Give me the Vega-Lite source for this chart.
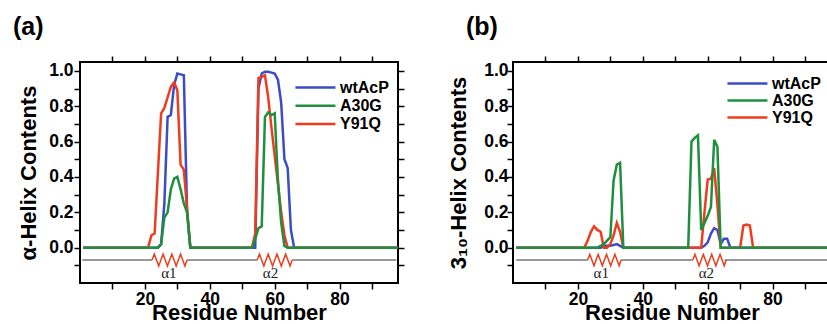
{
  "$schema": "https://vega.github.io/schema/vega-lite/v6.json",
  "padding": {"left": 12, "top": 14, "right": 0, "bottom": 0},
  "background": "white",
  "bounds": "flush",
  "config": {
    "font": "Liberation Sans",
    "view": {"stroke": "black", "strokeWidth": 2},
    "axis": {
      "labelFont": "Liberation Sans", "labelFontWeight": "bold", "labelFontSize": 17.5, "labelColor": "black",
      "titleFont": "Liberation Sans", "titleFontWeight": "bold", "titleFontSize": 22, "titleColor": "black",
      "domain": false, "grid": false, "ticks": true, "tickColor": "#000000", "tickOpacity": 1, "tickWidth": 1.5, "labelOverlap": false, "zindex": 1
    },
    "legend": {
      "title": null, "symbolType": "M-1,0L4.66,0", "symbolSize": 200, "symbolStrokeWidth": 2.5,
      "labelFont": "Liberation Sans", "labelFontSize": 16, "labelFontWeight": "bold", "labelColor": "black",
      "labelOffset": 29, "padding": 0, "rowPadding": 0
    },
    "title": {"font": "Liberation Sans", "fontWeight": "bold", "fontSize": 25, "color": "black"}
  },
  "datasets": {
    "a": [
      {"residue":1,"content":0,"variant":"wtAcP"},{"residue":24,"content":0,"variant":"wtAcP"},{"residue":25,"content":0.02,"variant":"wtAcP"},{"residue":26,"content":0.25,"variant":"wtAcP"},{"residue":27,"content":0.74,"variant":"wtAcP"},{"residue":28,"content":0.75,"variant":"wtAcP"},{"residue":29,"content":0.92,"variant":"wtAcP"},{"residue":30,"content":0.985,"variant":"wtAcP"},{"residue":31,"content":0.98,"variant":"wtAcP"},{"residue":32,"content":0.975,"variant":"wtAcP"},{"residue":33,"content":0.2,"variant":"wtAcP"},{"residue":34,"content":0,"variant":"wtAcP"},{"residue":54,"content":0,"variant":"wtAcP"},{"residue":55,"content":0.9,"variant":"wtAcP"},{"residue":56,"content":0.985,"variant":"wtAcP"},{"residue":57,"content":0.995,"variant":"wtAcP"},{"residue":58,"content":0.995,"variant":"wtAcP"},{"residue":59,"content":0.99,"variant":"wtAcP"},{"residue":60,"content":0.985,"variant":"wtAcP"},{"residue":61,"content":0.95,"variant":"wtAcP"},{"residue":62,"content":0.82,"variant":"wtAcP"},{"residue":63,"content":0.5,"variant":"wtAcP"},{"residue":64,"content":0.45,"variant":"wtAcP"},{"residue":65,"content":0.1,"variant":"wtAcP"},{"residue":66,"content":0,"variant":"wtAcP"},{"residue":98,"content":0,"variant":"wtAcP"},
      {"residue":1,"content":0,"variant":"Y91Q"},{"residue":21,"content":0,"variant":"Y91Q"},{"residue":22,"content":0.07,"variant":"Y91Q"},{"residue":23,"content":0.08,"variant":"Y91Q"},{"residue":24,"content":0.42,"variant":"Y91Q"},{"residue":25,"content":0.76,"variant":"Y91Q"},{"residue":26,"content":0.79,"variant":"Y91Q"},{"residue":27,"content":0.85,"variant":"Y91Q"},{"residue":28,"content":0.91,"variant":"Y91Q"},{"residue":29,"content":0.935,"variant":"Y91Q"},{"residue":30,"content":0.89,"variant":"Y91Q"},{"residue":31,"content":0.47,"variant":"Y91Q"},{"residue":32,"content":0.44,"variant":"Y91Q"},{"residue":33,"content":0.22,"variant":"Y91Q"},{"residue":34,"content":0,"variant":"Y91Q"},{"residue":53,"content":0,"variant":"Y91Q"},{"residue":54,"content":0.08,"variant":"Y91Q"},{"residue":55,"content":0.96,"variant":"Y91Q"},{"residue":56,"content":0.965,"variant":"Y91Q"},{"residue":57,"content":0.975,"variant":"Y91Q"},{"residue":58,"content":0.85,"variant":"Y91Q"},{"residue":59,"content":0.68,"variant":"Y91Q"},{"residue":60,"content":0.52,"variant":"Y91Q"},{"residue":61,"content":0.36,"variant":"Y91Q"},{"residue":62,"content":0.2,"variant":"Y91Q"},{"residue":63,"content":0.07,"variant":"Y91Q"},{"residue":64,"content":0,"variant":"Y91Q"},{"residue":98,"content":0,"variant":"Y91Q"},
      {"residue":1,"content":0,"variant":"A30G"},{"residue":24,"content":0,"variant":"A30G"},{"residue":25,"content":0.02,"variant":"A30G"},{"residue":26,"content":0.17,"variant":"A30G"},{"residue":27,"content":0.2,"variant":"A30G"},{"residue":28,"content":0.33,"variant":"A30G"},{"residue":29,"content":0.39,"variant":"A30G"},{"residue":30,"content":0.4,"variant":"A30G"},{"residue":31,"content":0.33,"variant":"A30G"},{"residue":32,"content":0.25,"variant":"A30G"},{"residue":33,"content":0.2,"variant":"A30G"},{"residue":34,"content":0,"variant":"A30G"},{"residue":53,"content":0,"variant":"A30G"},{"residue":54,"content":0.05,"variant":"A30G"},{"residue":55,"content":0.11,"variant":"A30G"},{"residue":56,"content":0.12,"variant":"A30G"},{"residue":57,"content":0.74,"variant":"A30G"},{"residue":58,"content":0.765,"variant":"A30G"},{"residue":59,"content":0.75,"variant":"A30G"},{"residue":60,"content":0.76,"variant":"A30G"},{"residue":61,"content":0.38,"variant":"A30G"},{"residue":62,"content":0.14,"variant":"A30G"},{"residue":63,"content":0.01,"variant":"A30G"},{"residue":64,"content":0,"variant":"A30G"},{"residue":98,"content":0,"variant":"A30G"}
    ],
    "b": [
      {"residue":1,"content":0,"variant":"wtAcP"},{"residue":27,"content":0,"variant":"wtAcP"},{"residue":28,"content":0.01,"variant":"wtAcP"},{"residue":29,"content":0.01,"variant":"wtAcP"},{"residue":30,"content":0.01,"variant":"wtAcP"},{"residue":31,"content":0.015,"variant":"wtAcP"},{"residue":32,"content":0.02,"variant":"wtAcP"},{"residue":33,"content":0.01,"variant":"wtAcP"},{"residue":34,"content":0,"variant":"wtAcP"},{"residue":58,"content":0,"variant":"wtAcP"},{"residue":59,"content":0.01,"variant":"wtAcP"},{"residue":60,"content":0.03,"variant":"wtAcP"},{"residue":61,"content":0.08,"variant":"wtAcP"},{"residue":62,"content":0.11,"variant":"wtAcP"},{"residue":63,"content":0.1,"variant":"wtAcP"},{"residue":64,"content":0.02,"variant":"wtAcP"},{"residue":65,"content":0.05,"variant":"wtAcP"},{"residue":66,"content":0.05,"variant":"wtAcP"},{"residue":67,"content":0,"variant":"wtAcP"},{"residue":98,"content":0,"variant":"wtAcP"},
      {"residue":1,"content":0,"variant":"Y91Q"},{"residue":22,"content":0,"variant":"Y91Q"},{"residue":23,"content":0.04,"variant":"Y91Q"},{"residue":24,"content":0.09,"variant":"Y91Q"},{"residue":25,"content":0.12,"variant":"Y91Q"},{"residue":26,"content":0.1,"variant":"Y91Q"},{"residue":27,"content":0.09,"variant":"Y91Q"},{"residue":28,"content":0,"variant":"Y91Q"},{"residue":29,"content":0,"variant":"Y91Q"},{"residue":30,"content":0.02,"variant":"Y91Q"},{"residue":31,"content":0.07,"variant":"Y91Q"},{"residue":32,"content":0.14,"variant":"Y91Q"},{"residue":33,"content":0.09,"variant":"Y91Q"},{"residue":34,"content":0,"variant":"Y91Q"},{"residue":58,"content":0,"variant":"Y91Q"},{"residue":59,"content":0.2,"variant":"Y91Q"},{"residue":60,"content":0.385,"variant":"Y91Q"},{"residue":61,"content":0.39,"variant":"Y91Q"},{"residue":62,"content":0.45,"variant":"Y91Q"},{"residue":63,"content":0.24,"variant":"Y91Q"},{"residue":64,"content":0,"variant":"Y91Q"},{"residue":70,"content":0,"variant":"Y91Q"},{"residue":71,"content":0.125,"variant":"Y91Q"},{"residue":72,"content":0.13,"variant":"Y91Q"},{"residue":73,"content":0.125,"variant":"Y91Q"},{"residue":74,"content":0,"variant":"Y91Q"},{"residue":98,"content":0,"variant":"Y91Q"},
      {"residue":1,"content":0,"variant":"A30G"},{"residue":26,"content":0,"variant":"A30G"},{"residue":27,"content":0.01,"variant":"A30G"},{"residue":28,"content":0.02,"variant":"A30G"},{"residue":29,"content":0.04,"variant":"A30G"},{"residue":30,"content":0.06,"variant":"A30G"},{"residue":31,"content":0.38,"variant":"A30G"},{"residue":32,"content":0.47,"variant":"A30G"},{"residue":33,"content":0.48,"variant":"A30G"},{"residue":34,"content":0,"variant":"A30G"},{"residue":54,"content":0,"variant":"A30G"},{"residue":55,"content":0.6,"variant":"A30G"},{"residue":56,"content":0.62,"variant":"A30G"},{"residue":57,"content":0.635,"variant":"A30G"},{"residue":58,"content":0.1,"variant":"A30G"},{"residue":59,"content":0.14,"variant":"A30G"},{"residue":60,"content":0.18,"variant":"A30G"},{"residue":61,"content":0.23,"variant":"A30G"},{"residue":62,"content":0.61,"variant":"A30G"},{"residue":63,"content":0.57,"variant":"A30G"},{"residue":64,"content":0,"variant":"A30G"},{"residue":98,"content":0,"variant":"A30G"}
    ],
    "coilA": [{"from":0.7,"to":22.2},{"from":33,"to":54.6},{"from":65.4,"to":97.5}],
    "helixA": [{"helix":"α1","start":22.2,"end":33,"labelAt":27.4},{"helix":"α2","start":54.6,"end":65.4,"labelAt":58.7}],
    "coilB": [{"from":1,"to":23},{"from":33.3,"to":55.4},{"from":65.2,"to":98}],
    "helixB": [{"helix":"α1","start":23,"end":33.3,"labelAt":27.2},{"helix":"α2","start":55.4,"end":65.2,"labelAt":59.6}]
  },
  "resolve": {"scale": {"color": "independent"}, "legend": {"color": "independent"}},
  "spacing": 115,
  "hconcat": [
    {
      "width": 318, "height": 221,
      "title": {"text": "(a)", "anchor": "start", "frame": "group", "dx": -67, "offset": 15},
      "layer": [
        {"data": {"name": "coilA"}, "mark": {"type": "rule", "color": "#333333", "strokeWidth": 1},
         "encoding": {"x": {"field": "from", "type": "quantitative", "scale": {"domain": [0, 98], "nice": false, "zero": false}, "axis": null},
                      "x2": {"field": "to"},
                      "y": {"datum": -0.07, "type": "quantitative", "scale": {"domain": [-0.2, 1.05], "nice": false}, "axis": null}}},
        {"data": {"name": "helixA"}, "mark": {"type": "point", "shape": "M0,0L0.13,-0.34L0.38,0.34L0.63,-0.34L0.88,0.34L1.13,-0.34L1.38,0.34L1.63,-0.34L1.88,0.34L2,0", "size": 1225, "filled": false, "color": "#e8401c", "strokeWidth": 1.5, "opacity": 1},
         "encoding": {"x": {"field": "start", "type": "quantitative", "scale": {"domain": [0, 98], "nice": false, "zero": false}, "axis": null},
                      "y": {"datum": -0.07, "type": "quantitative", "scale": {"domain": [-0.2, 1.05], "nice": false}, "axis": null}}},
        {"data": {"name": "helixA"}, "mark": {"type": "text", "font": "Liberation Serif", "fontSize": 15, "color": "#222222"},
         "encoding": {"x": {"field": "labelAt", "type": "quantitative", "scale": {"domain": [0, 98], "nice": false, "zero": false}, "axis": null},
                      "y": {"datum": -0.145, "type": "quantitative", "scale": {"domain": [-0.2, 1.05], "nice": false}, "axis": null},
                      "text": {"field": "helix"}}},
        {"data": {"name": "a"}, "transform": [{"filter": "datum.variant == 'wtAcP'"}], "mark": {"type": "line", "strokeWidth": 2.5},
         "encoding": {
           "x": {"field": "residue", "type": "quantitative", "scale": {"domain": [0, 98], "nice": false, "zero": false},
                 "axis": {"orient": "bottom", "title": "Residue Number", "values": [10,20,30,40,50,60,70,80,90], "labelExpr": "datum.value % 20 == 0 ? datum.label : ''", "ticks": true, "tickSize": 6, "labelPadding": 1, "titleY": 36.5, "titleBaseline": "alphabetic",
                          "encode": {"ticks": {"update": {"y2": {"value": -6}, "stroke": {"value": "#000000"}, "strokeWidth": {"value": 1.5}, "strokeOpacity": {"value": 1}, "opacity": {"value": 1}}}}}},
           "y": {"field": "content", "type": "quantitative", "scale": {"domain": [-0.2, 1.05], "nice": false},
                 "axis": {"orient": "left", "title": "α-Helix Contents", "values": [-0.1,0,0.1,0.2,0.3,0.4,0.5,0.6,0.7,0.8,0.9,1.0], "labelExpr": "round(datum.value*10) % 2 == 0 && datum.value > -0.05 ? format(datum.value, '.1f') : ''", "ticks": true, "tickSize": 6, "labelPadding": 1, "titlePadding": 8,
                          "encode": {"ticks": {"update": {"x2": {"value": 6}, "stroke": {"value": "#000000"}, "strokeWidth": {"value": 1.5}, "strokeOpacity": {"value": 1}, "opacity": {"value": 1}}}}}},
           "color": {"field": "variant", "type": "nominal", "scale": {"domain": ["wtAcP", "A30G", "Y91Q"], "range": ["#3b4cc6", "#1f8f3f", "#f03c1e"]},
                     "legend": {"orient": "none", "legendX": 214, "legendY": 17, "rowPadding": 1.3}}}},
        {"data": {"name": "a"}, "transform": [{"filter": "datum.variant == 'Y91Q'"}], "mark": {"type": "line", "strokeWidth": 2.5},
         "encoding": {
           "x": {"field": "residue", "type": "quantitative", "scale": {"domain": [0, 98], "nice": false, "zero": false}, "axis": null},
           "y": {"field": "content", "type": "quantitative", "scale": {"domain": [-0.2, 1.05], "nice": false}, "axis": null},
           "color": {"field": "variant", "type": "nominal", "scale": {"domain": ["wtAcP", "A30G", "Y91Q"], "range": ["#3b4cc6", "#1f8f3f", "#f03c1e"]}, "legend": null}}},
        {"data": {"name": "a"}, "transform": [{"filter": "datum.variant == 'A30G'"}], "mark": {"type": "line", "strokeWidth": 2.5},
         "encoding": {
           "x": {"field": "residue", "type": "quantitative", "scale": {"domain": [0, 98], "nice": false, "zero": false},
                 "axis": {"orient": "top", "title": null, "labels": false, "values": [10,20,30,40,50,60,70,80,90], "ticks": true, "tickSize": 6,
                          "encode": {"ticks": {"update": {"y2": {"value": 6}, "stroke": {"value": "#000000"}, "strokeWidth": {"value": 1.5}, "strokeOpacity": {"value": 1}, "opacity": {"value": 1}}}}}},
           "y": {"field": "content", "type": "quantitative", "scale": {"domain": [-0.2, 1.05], "nice": false},
                 "axis": {"orient": "right", "title": null, "labels": false, "values": [-0.1,0,0.1,0.2,0.3,0.4,0.5,0.6,0.7,0.8,0.9,1.0], "ticks": true, "tickSize": 6,
                          "encode": {"ticks": {"update": {"x2": {"value": -6}, "stroke": {"value": "#000000"}, "strokeWidth": {"value": 1.5}, "strokeOpacity": {"value": 1}, "opacity": {"value": 1}}}}}},
           "color": {"field": "variant", "type": "nominal", "scale": {"domain": ["wtAcP", "A30G", "Y91Q"], "range": ["#3b4cc6", "#1f8f3f", "#f03c1e"]}, "legend": null}}}
      ]
    },
    {
      "width": 318, "height": 221,
      "title": {"text": "(b)", "anchor": "start", "frame": "group", "dx": -47, "offset": 15},
      "layer": [
        {"data": {"name": "coilB"}, "mark": {"type": "rule", "color": "#333333", "strokeWidth": 1},
         "encoding": {"x": {"field": "from", "type": "quantitative", "scale": {"domain": [0, 98], "nice": false, "zero": false}, "axis": null},
                      "x2": {"field": "to"},
                      "y": {"datum": -0.07, "type": "quantitative", "scale": {"domain": [-0.2, 1.05], "nice": false}, "axis": null}}},
        {"data": {"name": "helixB"}, "mark": {"type": "point", "shape": "M0,0L0.13,-0.34L0.38,0.34L0.63,-0.34L0.88,0.34L1.13,-0.34L1.38,0.34L1.63,-0.34L1.88,0.34L2,0", "size": 1120, "filled": false, "color": "#e8401c", "strokeWidth": 1.5, "opacity": 1},
         "encoding": {"x": {"field": "start", "type": "quantitative", "scale": {"domain": [0, 98], "nice": false, "zero": false}, "axis": null},
                      "y": {"datum": -0.07, "type": "quantitative", "scale": {"domain": [-0.2, 1.05], "nice": false}, "axis": null}}},
        {"data": {"name": "helixB"}, "mark": {"type": "text", "font": "Liberation Serif", "fontSize": 15, "color": "#222222"},
         "encoding": {"x": {"field": "labelAt", "type": "quantitative", "scale": {"domain": [0, 98], "nice": false, "zero": false}, "axis": null},
                      "y": {"datum": -0.145, "type": "quantitative", "scale": {"domain": [-0.2, 1.05], "nice": false}, "axis": null},
                      "text": {"field": "helix"}}},
        {"data": {"name": "b"}, "transform": [{"filter": "datum.variant == 'wtAcP'"}], "mark": {"type": "line", "strokeWidth": 2.5},
         "encoding": {
           "x": {"field": "residue", "type": "quantitative", "scale": {"domain": [0, 98], "nice": false, "zero": false},
                 "axis": {"orient": "bottom", "title": "Residue Number", "values": [10,20,30,40,50,60,70,80,90], "labelExpr": "datum.value % 20 == 0 ? datum.label : ''", "ticks": true, "tickSize": 6, "labelPadding": 1, "titleY": 36.5, "titleBaseline": "alphabetic",
                          "encode": {"ticks": {"update": {"y2": {"value": -6}, "stroke": {"value": "#000000"}, "strokeWidth": {"value": 1.5}, "strokeOpacity": {"value": 1}, "opacity": {"value": 1}}}}}},
           "y": {"field": "content", "type": "quantitative", "scale": {"domain": [-0.2, 1.05], "nice": false},
                 "axis": {"orient": "left", "title": "3₁₀-Helix Contents", "values": [-0.1,0,0.1,0.2,0.3,0.4,0.5,0.6,0.7,0.8,0.9,1.0], "labelExpr": "round(datum.value*10) % 2 == 0 && datum.value > -0.05 ? format(datum.value, '.1f') : ''", "ticks": true, "tickSize": 6, "labelPadding": -1, "titlePadding": 13,
                          "encode": {"ticks": {"update": {"x2": {"value": 6}, "stroke": {"value": "#000000"}, "strokeWidth": {"value": 1.5}, "strokeOpacity": {"value": 1}, "opacity": {"value": 1}}}}}},
           "color": {"field": "variant", "type": "nominal", "scale": {"domain": ["wtAcP", "A30G", "Y91Q"], "range": ["#3b4cc6", "#1f8f3f", "#f03c1e"]},
                     "legend": {"orient": "none", "legendX": 213, "legendY": 13, "rowPadding": -0.3}}}},
        {"data": {"name": "b"}, "transform": [{"filter": "datum.variant == 'Y91Q'"}], "mark": {"type": "line", "strokeWidth": 2.5},
         "encoding": {
           "x": {"field": "residue", "type": "quantitative", "scale": {"domain": [0, 98], "nice": false, "zero": false}, "axis": null},
           "y": {"field": "content", "type": "quantitative", "scale": {"domain": [-0.2, 1.05], "nice": false}, "axis": null},
           "color": {"field": "variant", "type": "nominal", "scale": {"domain": ["wtAcP", "A30G", "Y91Q"], "range": ["#3b4cc6", "#1f8f3f", "#f03c1e"]}, "legend": null}}},
        {"data": {"name": "b"}, "transform": [{"filter": "datum.variant == 'A30G'"}], "mark": {"type": "line", "strokeWidth": 2.5},
         "encoding": {
           "x": {"field": "residue", "type": "quantitative", "scale": {"domain": [0, 98], "nice": false, "zero": false},
                 "axis": {"orient": "top", "title": null, "labels": false, "values": [10,20,30,40,50,60,70,80,90], "ticks": true, "tickSize": 6,
                          "encode": {"ticks": {"update": {"y2": {"value": 6}, "stroke": {"value": "#000000"}, "strokeWidth": {"value": 1.5}, "strokeOpacity": {"value": 1}, "opacity": {"value": 1}}}}}},
           "y": {"field": "content", "type": "quantitative", "scale": {"domain": [-0.2, 1.05], "nice": false},
                 "axis": {"orient": "right", "title": null, "labels": false, "values": [-0.1,0,0.1,0.2,0.3,0.4,0.5,0.6,0.7,0.8,0.9,1.0], "ticks": true, "tickSize": 6,
                          "encode": {"ticks": {"update": {"x2": {"value": -6}, "stroke": {"value": "#000000"}, "strokeWidth": {"value": 1.5}, "strokeOpacity": {"value": 1}, "opacity": {"value": 1}}}}}},
           "color": {"field": "variant", "type": "nominal", "scale": {"domain": ["wtAcP", "A30G", "Y91Q"], "range": ["#3b4cc6", "#1f8f3f", "#f03c1e"]}, "legend": null}}}
      ]
    }
  ]
}
